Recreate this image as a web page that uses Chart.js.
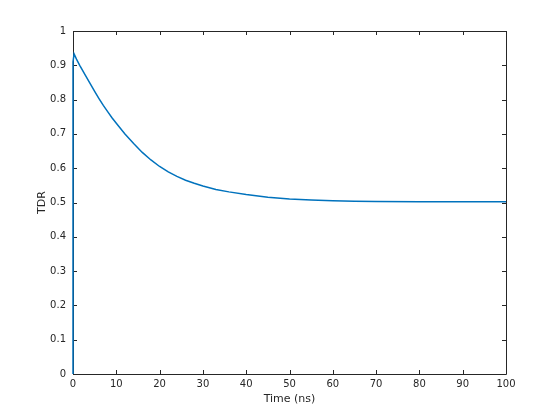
<!DOCTYPE html>
<html>
<head>
<meta charset="utf-8">
<script src="https://cdn.jsdelivr.net/npm/chart.js@4"></script>
<style>
  html, body { margin: 0; padding: 0; background: #fff; }
  #wrap { width: 560px; height: 420px; }
</style>
</head>
<body>
<div id="wrap"><canvas id="tdr" width="560" height="420"></canvas></div>
<script>
// time axis (ns) and TDR readings
var tempo = [0, 0, 0.25, 0.8, 1.55, 3, 4, 5, 6, 7, 8, 9, 10, 12, 14, 16, 18, 20, 22, 24, 26, 28, 30,
             33, 36, 40, 45, 50, 55, 60, 65, 70, 80, 90, 100];
var tdr = [0, 0.91, 0.933, 0.918, 0.90, 0.868, 0.846, 0.824, 0.803, 0.783, 0.765, 0.747, 0.731,
           0.700, 0.672, 0.646, 0.624, 0.605, 0.589, 0.576, 0.565, 0.556, 0.548,
           0.538, 0.531, 0.523, 0.515, 0.510, 0.507, 0.505, 0.504, 0.503, 0.502, 0.502, 0.502];
var xTicks = [0, 10, 20, 30, 40, 50, 60, 70, 80, 90, 100];
var yTicks = [0, 0.1, 0.2, 0.3, 0.4, 0.5, 0.6, 0.7, 0.8, 0.9, 1];

var pontos = [];
for (let i = 0; i < tempo.length; i++) {
    pontos.push({ x: tempo[i], y: tdr[i] });
}

const corEixo = '#262626';

// moldura e ticks para dentro, como no matlab (desenhada antes da linha)
const caixa = {
    id: 'caixa',
    beforeDatasetsDraw(chart) {
        const ctx = chart.ctx;
        const a = chart.chartArea;
        const sx = chart.scales.x, sy = chart.scales.y;
        ctx.save();
        ctx.strokeStyle = corEixo;
        ctx.lineWidth = 1;
        ctx.beginPath();
        ctx.rect(Math.round(a.left) + 0.5, Math.round(a.top) + 0.5,
                 Math.round(a.right - a.left), Math.round(a.bottom - a.top));
        ctx.stroke();
        ctx.beginPath();
        xTicks.forEach(function (v) {
            const px = Math.round(sx.getPixelForValue(v)) + 0.5;
            ctx.moveTo(px, a.bottom); ctx.lineTo(px, a.bottom - 4);
            ctx.moveTo(px, a.top); ctx.lineTo(px, a.top + 4);
        });
        yTicks.forEach(function (v) {
            const py = Math.round(sy.getPixelForValue(v)) + 0.5;
            ctx.moveTo(a.left, py); ctx.lineTo(a.left + 4, py);
            ctx.moveTo(a.right, py); ctx.lineTo(a.right - 4, py);
        });
        ctx.stroke();
        ctx.restore();
    }
};

var grafico = new Chart(document.getElementById('tdr'), {
    type: 'line',
    data: {
        datasets: [{
            data: pontos,
            borderColor: '#0072BD',
            borderWidth: 1.5,
            pointRadius: 0,
            fill: false,
            tension: 0,
            clip: 2
        }]
    },
    options: {
        responsive: false,
        animation: false,
        layout: { padding: { left: 0, right: 54, top: 31, bottom: 0 } },
        plugins: {
            legend: { display: false },
            tooltip: { enabled: false }
        },
        scales: {
            x: {
                type: 'linear',
                min: 0,
                max: 100,
                afterBuildTicks: function (s) { s.ticks = xTicks.map(function (v) { return { value: v }; }); },
                afterFit: function (s) { s.height = 46; },
                grid: { display: false, drawTicks: false },
                border: { display: false },
                ticks: {
                    color: corEixo,
                    padding: 4,
                    maxRotation: 0,
                    font: { family: 'DejaVu Sans', size: 10 }
                },
                title: {
                    display: true,
                    text: 'Time (ns)',
                    color: corEixo,
                    padding: { top: 2, bottom: 14 },
                    font: { family: 'DejaVu Sans', size: 11 }
                }
            },
            y: {
                type: 'linear',
                min: 0,
                max: 1,
                afterBuildTicks: function (s) { s.ticks = yTicks.map(function (v) { return { value: v }; }); },
                afterFit: function (s) { s.width = 73; },
                grid: { display: false, drawTicks: false },
                border: { display: false },
                ticks: {
                    color: corEixo,
                    padding: 7,
                    font: { family: 'DejaVu Sans', size: 10 },
                    callback: function (v) { return String(Math.round(v * 10) / 10); }
                },
                title: {
                    display: true,
                    text: 'TDR',
                    color: corEixo,
                    padding: { top: 36, bottom: 0 },
                    font: { family: 'DejaVu Sans', size: 11 }
                }
            }
        }
    },
    plugins: [caixa]
});
</script>
</body>
</html>
